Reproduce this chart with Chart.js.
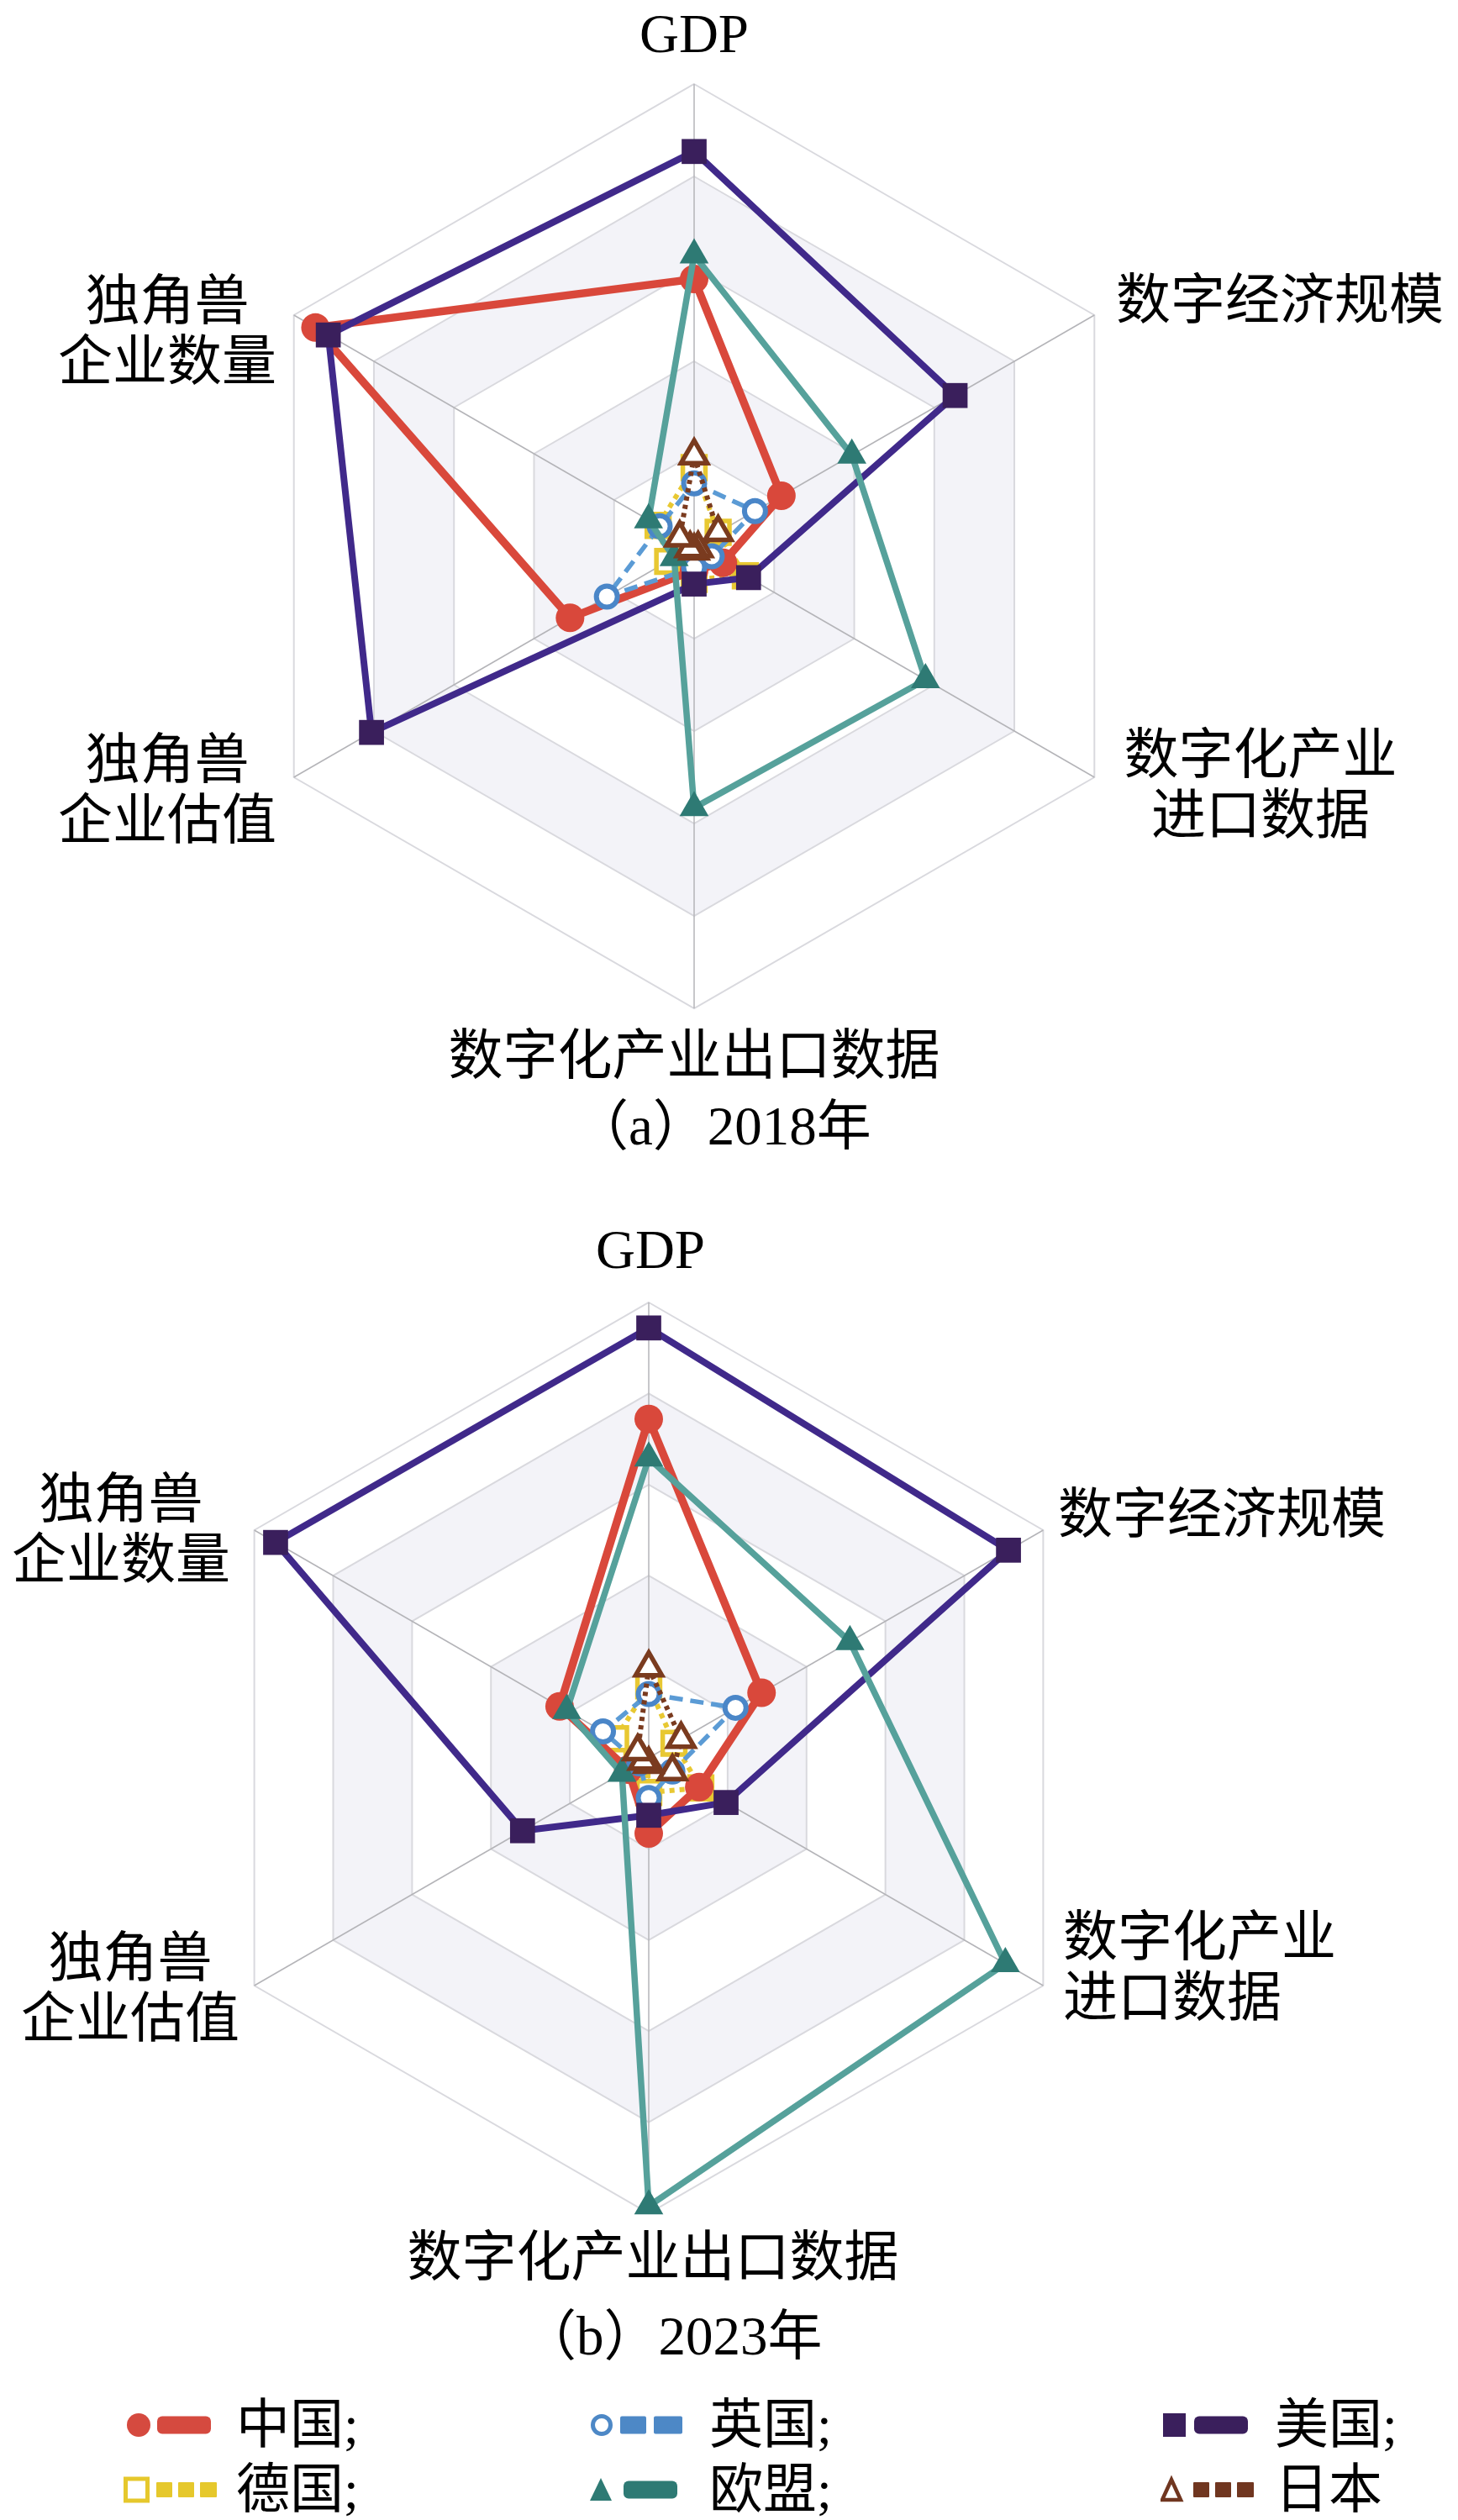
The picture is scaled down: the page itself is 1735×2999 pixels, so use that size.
<!DOCTYPE html>
<html>
<head>
<meta charset="utf-8">
<script src="https://cdn.jsdelivr.net/npm/chart.js@4.4.1/dist/chart.umd.min.js"></script>
<style>
html,body{margin:0;padding:0;background:#ffffff;}
body{width:1735px;height:2999px;position:relative;overflow:hidden;font-family:"Liberation Serif","Noto Sans CJK SC",serif;}
#c1{position:absolute;left:0;top:0;}
#c2{position:absolute;left:0;top:1400px;}
.lgicon{position:absolute;}
.lgtext{position:absolute;font-size:64px;height:80px;line-height:80px;white-space:nowrap;color:#000;}
</style>
</head>
<body>
<canvas id="c1" width="1735" height="1400"></canvas>
<canvas id="c2" width="1735" height="1420"></canvas>
<div id="legend"></div>
<script>
// ---------------- DATA ----------------
const categories = ['GDP', '数字经济规模', ['数字化产业', '进口数据'], '数字化产业出口数据', ['独角兽', '企业估值'], ['独角兽', '企业数量']];
const seriesNames = ['中国', '英国', '美国', '德国', '欧盟', '日本'];
const legendTexts = ['中国;', '英国;', '美国;', '德国;', '欧盟;', '日本'];
const tickValues = [0, 1, 2, 3, 4, 5];
const panelTitles = ['（a）2018年', '（b）2023年'];

const china2018   = [2.89, 1.09, 0.36, 0.26, 1.55, 4.73];
const uk2018      = [0.68, 0.76, 0.22, 0.23, 1.09, 0.43];
const usa2018     = [4.27, 3.26, 0.68, 0.41, 4.03, 4.57];
const germany2018 = [0.85, 0.30, 0.64, 0.36, 0.33, 0.45];
const eu2018      = [3.15, 1.97, 2.89, 2.83, 0.25, 0.57];
const japan2018   = [0.98, 0.30, 0.05, 0.05, 0.05, 0.18];

const china2023   = [3.72, 1.43, 0.64, 0.83, 0.26, 1.13];
const uk2023      = [0.70, 1.10, 0.30, 0.44, 0.12, 0.58];
const usa2023     = [4.72, 4.56, 0.98, 0.63, 1.60, 4.73];
const germany2023 = [0.79, 0.32, 0.66, 0.38, 0.15, 0.42];
const eu2023      = [3.29, 2.55, 4.52, 4.92, 0.34, 1.04];
const japan2023   = [0.99, 0.41, 0.30, 0.07, 0.07, 0.14];

const values2018 = [china2018, uk2018, usa2018, germany2018, eu2018, japan2018];
const values2023 = [china2023, uk2023, usa2023, germany2023, eu2023, japan2023];

// ---------------- STYLES ----------------
const styles = [
  {line:'#d9483b', point:'#d9483b', fill:'#d9483b', shape:'circle',   r:17,   bw:0,   lw:9.5, dash:[],     sample:'solid', order:6},
  {line:'#5b9bd5', point:'#4a86c8', fill:'#ffffff', shape:'circle',   r:12.5, bw:6,   lw:5.5, dash:[16,9], sample:'dash',  order:5},
  {line:'#40298a', point:'#3a1f5c', fill:'#3a1f5c', shape:'rect',     r:21,   bw:0,   lw:8,   dash:[],     sample:'solid', order:4},
  {line:'#e8c832', point:'#e8c832', fill:'#ffffff', shape:'rect',     r:19,   bw:5.5, lw:6,   dash:[6,6],  sample:'dot',   order:7},
  {line:'#56a19b', point:'#2e7a74', fill:'#2e7a74', shape:'triangle', r:20,   bw:0,   lw:7.5, dash:[],     sample:'solid', order:2},
  {line:'#7a3b1f', point:'#7a3b1f', fill:'#ffffff', shape:'triangle', r:18,   bw:5.5, lw:6,   dash:[5,5],  sample:'dot',   order:1}
];
const legendColors = ['#d54a3f', '#4d88c6', '#3a1f5c', '#e6c82c', '#2e7a74', '#703620'];

const FONT = '"Liberation Serif", "Noto Sans CJK SC", serif';

const decoPlugin = {
  id: 'deco',
  beforeDraw(chart, args, opts) {
    const s = chart.scales.r, ctx = chart.ctx, n = chart.data.labels.length;
    ctx.save();
    ctx.fillStyle = opts.bandColor;
    opts.bands.forEach(([a, b]) => {
      const ra = s.getDistanceFromCenterForValue(a), rb = s.getDistanceFromCenterForValue(b);
      ctx.beginPath();
      for (let i = 0; i < n; i++) { const p = s.getPointPosition(i, rb); i ? ctx.lineTo(p.x, p.y) : ctx.moveTo(p.x, p.y); }
      ctx.closePath();
      for (let i = 0; i < n; i++) { const p = s.getPointPosition(i, ra); i ? ctx.lineTo(p.x, p.y) : ctx.moveTo(p.x, p.y); }
      ctx.closePath();
      ctx.fill('evenodd');
    });
    ctx.restore();
  },
  afterDraw(chart, args, opts) {
    const s = chart.scales.r, ctx = chart.ctx;
    ctx.save();
    ctx.fillStyle = '#000';
    ctx.font = opts.fontSize + 'px ' + FONT;
    ctx.textBaseline = 'middle';
    chart.data.labels.forEach((lab, i) => {
      const lines = Array.isArray(lab) ? lab : [lab];
      const p = opts.pos[i];
      ctx.textAlign = p.align;
      lines.forEach((t, k) => ctx.fillText(t, s.xCenter + p.dx, s.yCenter + p.dy + k * opts.lineHeight));
    });
    ctx.textAlign = 'left';
    ctx.fillText(opts.title, s.xCenter + opts.titleDx, s.yCenter + opts.titleDy);
    ctx.restore();
  }
};

function makeDatasets(vals) {
  return seriesNames.map((name, i) => {
    const st = styles[i];
    return {
      label: name, data: vals[i], fill: false, tension: 0,
      borderColor: st.line, borderWidth: st.lw, borderDash: st.dash,
      pointStyle: st.shape, pointRadius: st.r, pointHoverRadius: st.r,
      pointBackgroundColor: st.fill, pointBorderColor: st.point, pointBorderWidth: st.bw,
      pointHoverBorderWidth: st.bw,
      order: st.order
    };
  });
}

function makeChart(id, vals, padding, labelPos, title, titleDx, titleDy) {
  return new Chart(document.getElementById(id), {
    type: 'radar',
    data: { labels: categories, datasets: makeDatasets(vals) },
    plugins: [decoPlugin],
    options: {
      responsive: false, animation: false, devicePixelRatio: 1, events: [],
      layout: { padding: padding },
      plugins: {
        legend: { display: false }, tooltip: { enabled: false },
        deco: { bandColor: '#f3f3f8', bands: [[1, 2], [3, 4]], fontSize: 65, lineHeight: 72,
                pos: labelPos, title: title, titleDx: titleDx, titleDy: titleDy }
      },
      scales: {
        r: {
          min: 0, max: 5,
          afterBuildTicks: (sc) => { sc.ticks = tickValues.map(v => ({ value: v })); },
          ticks: { display: false, stepSize: 1 },
          pointLabels: { display: false },
          grid: { color: '#d9d9de', lineWidth: 2 },
          angleLines: { color: '#b4b4b8', lineWidth: 1.5 }
        }
      }
    }
  });
}

makeChart('c1', values2018, { left: 276, right: 359, top: 100, bottom: 200 }, [
  { align: 'center', dx: 0, dy: -605 },
  { align: 'left', dx: 502, dy: -288 },
  { align: 'center', dx: 674, dy: 253 },
  { align: 'center', dx: 0, dy: 611 },
  { align: 'center', dx: -627, dy: 259 },
  { align: 'center', dx: -627, dy: -287 }
], panelTitles[0], -143, 695);

makeChart('c2', values2023, { left: 230, right: 421, top: 150, bottom: 186 }, [
  { align: 'center', dx: 2, dy: -600 },
  { align: 'left', dx: 487, dy: -285 },
  { align: 'left', dx: 493, dy: 218 },
  { align: 'center', dx: 5, dy: 599 },
  { align: 'center', dx: -617, dy: 243 },
  { align: 'center', dx: -628, dy: -303 }
], panelTitles[1], -151, 693);

// ---------------- LEGEND ----------------
const legendIconX = [147, 702, 1381];
const legendTextX = [281, 844, 1517];
const legendRowY = [2886, 2963];
const lg = document.getElementById('legend');
seriesNames.forEach((name, i) => {
  const col = i % 3, row = Math.floor(i / 3);
  const st = styles[i], color = legendColors[i];
  const cv = document.createElement('canvas');
  cv.width = 120; cv.height = 40; cv.className = 'lgicon';
  cv.style.left = legendIconX[col] + 'px'; cv.style.top = (legendRowY[row] - 20) + 'px';
  const c = cv.getContext('2d');
  const cy = 20;
  c.fillStyle = color; c.strokeStyle = color; c.lineWidth = 5;
  const open = st.fill === '#ffffff';
  c.beginPath();
  if (st.shape === 'circle') {
    if (open) { c.arc(14, cy, 10.5, 0, Math.PI * 2); c.fillStyle = '#fff'; c.fill(); c.stroke(); }
    else { c.arc(18, cy, 14, 0, Math.PI * 2); c.fill(); }
  } else if (st.shape === 'rect') {
    if (open) { c.rect(2.5, cy - 13, 26, 26); c.fillStyle = '#fff'; c.fill(); c.stroke(); }
    else { c.rect(3, cy - 14, 27, 28); c.fill(); }
  } else {
    if (open) { c.moveTo(13, cy - 12); c.lineTo(24, cy + 12); c.lineTo(2, cy + 12); c.closePath(); c.fillStyle = '#fff'; c.fill(); c.lineWidth = 4.5; c.stroke(); }
    else { c.moveTo(13, cy - 14); c.lineTo(26, cy + 13); c.lineTo(0, cy + 13); c.closePath(); c.fill(); }
  }
  c.fillStyle = color;
  const rr = (x, y, w, h, r) => { c.beginPath(); c.roundRect(x, y, w, h, r); c.fill(); };
  if (st.sample === 'solid') rr(40, cy - 10.5, 64, 21, 6);
  else if (st.sample === 'dash') { rr(36, cy - 10.5, 31, 21, 2); rr(76, cy - 10.5, 34, 21, 2); }
  else { rr(39, cy - 9, 19, 18, 1); rr(65, cy - 9, 19, 18, 1); rr(91, cy - 9, 20, 18, 1); }
  lg.appendChild(cv);
  const t = document.createElement('div');
  t.className = 'lgtext'; t.textContent = legendTexts[i];
  t.style.left = legendTextX[col] + 'px'; t.style.top = (legendRowY[row] - 40) + 'px';
  lg.appendChild(t);
});
</script>
</body>
</html>
